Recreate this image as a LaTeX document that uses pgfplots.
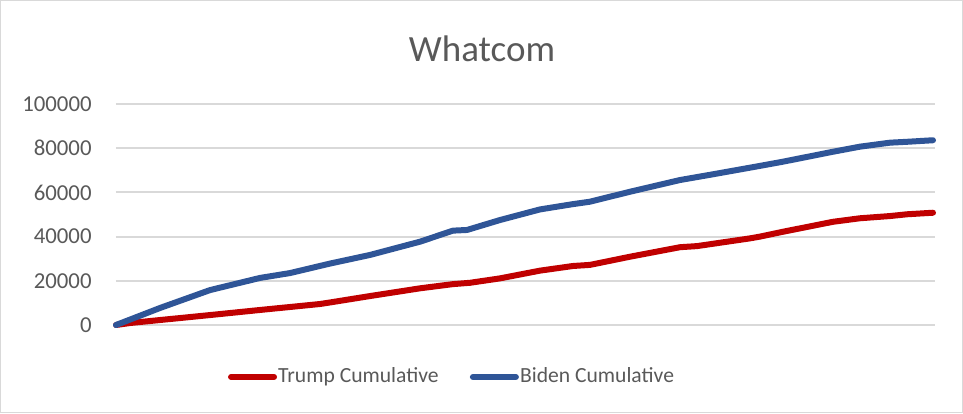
\documentclass[border=0pt]{standalone}
\usepackage{pgfplots}
\pgfplotsset{compat=1.18}
\usepackage{fontspec}
\setmainfont{Carlito}
\definecolor{tred}{HTML}{C00000}
\definecolor{bblue}{HTML}{2F5597}
\definecolor{txt}{HTML}{595959}
\definecolor{grd}{HTML}{D9D9D9}
\begin{document}
\begin{tikzpicture}
\draw[grd, line width=0.6pt] (0.3pt,0.3pt) rectangle (481.2pt,206.2pt);
\node[anchor=base, text=txt, font=\fontsize{18.5}{20}\selectfont, inner sep=0pt] at (241pt,175.5pt) {Whatcom};
\begin{axis}[
  at={(58pt,44pt)}, anchor=south west,
  scale only axis, width=409.5pt, height=110.5pt,
  xmin=0, xmax=819, ymin=0, ymax=100000,
  xtick=\empty,
  ytick={0,20000,40000,60000,80000,100000},
  yticklabels={0,20000,40000,60000,80000,100000},
  scaled y ticks=false,
  yticklabel style={font=\fontsize{11.4}{13}\selectfont, text=txt, inner sep=0pt, anchor=east, xshift=-12pt},
  major tick length=0pt,
  axis line style={draw=none},
  ymajorgrids, grid style={grd, line width=1pt},
  clip=false,
  legend columns=2,
  legend style={draw=none, fill=none, at={(rel axis cs:0.1368,-0.235)}, anchor=west,
    inner sep=0pt, outer sep=0pt,
    font=\fontsize{10.8}{13}\selectfont, text=txt,
    /tikz/every even column/.append style={column sep=15pt},
    nodes={inner sep=0.6pt}},
  legend image code/.code={\draw[#1, line cap=round] (1.5pt,0pt) -- (23pt,0pt);},
]
\addplot[tred, line width=3pt, line join=round, line cap=round] coordinates {
(0,0) (14,900) (94,4500) (144,6800) (204,9500) (214,10200) (254,13100) (304,16600)
(337,18500) (354,19100) (384,21100) (424,24600) (457,26700) (474,27200) (514,30900)
(564,35200) (581,35700) (634,39200) (644,40000) (667,42200) (717,46700) (744,48300)
(774,49300) (791,50100) (817,50800)
};
\addlegendentry{Trump Cumulative}
\addplot[bblue, line width=3pt, line join=round, line cap=round] coordinates {
(0,0) (44,7700) (94,15800) (144,21300) (174,23500) (214,27800) (254,31700) (304,37700)
(337,42700) (351,43000) (384,47500) (424,52300) (457,54700) (474,55800) (514,60300)
(564,65600) (597,68200) (644,72000) (667,73900) (717,78400) (744,80700) (774,82500)
(791,82900) (817,83600)
};
\addlegendentry{Biden Cumulative}
\end{axis}
\end{tikzpicture}
\end{document}
